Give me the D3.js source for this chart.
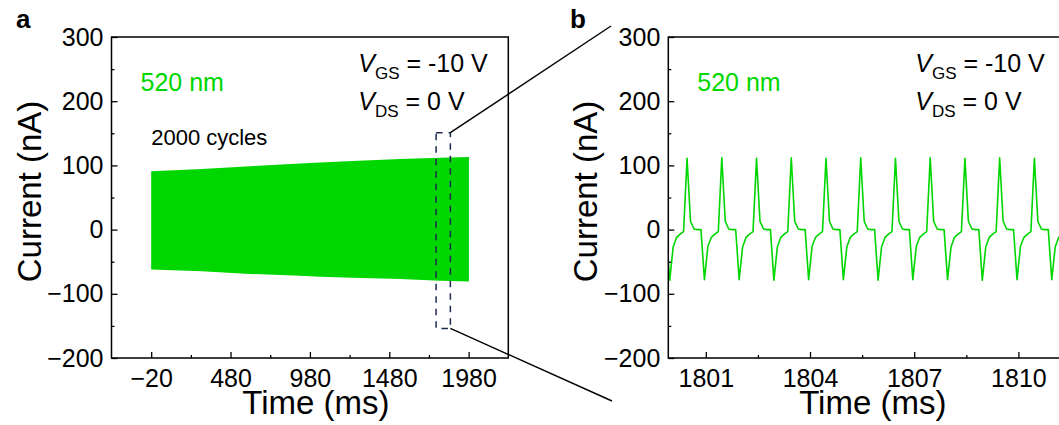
<!DOCTYPE html>
<html>
<head>
<meta charset="utf-8">
<script src="https://cdn.jsdelivr.net/npm/d3@7"></script>
<style>
  body { margin: 0; background: #fff; }
  text { font-family: "Liberation Sans", Arial, sans-serif; }
</style>
</head>
<body>
<script>
// ---- data ----
// panel a: envelope of the 2000-cycle trace
const envTime  = [-20, 300, 600, 918, 1044, 1250, 1548, 1800, 1982];
const envUpper = [91, 94.5, 98.5, 103, 104.7, 107, 110, 112, 113];
const envLower = [-62, -65, -69, -72, -73.5, -75, -77, -79.5, -81];

// panel b: sampled current, 0.1 ms step starting at 1799.86 ms
const waveT0 = 1799.86, waveDt = 0.1;
const waveCurrent = [
  0,
  -79, -27, -12, -7, -3, 111, 13, 1, 0, 0,
  -78, -26, -12, -7, -3, 112, 13, 1, 0, 0,
  -78, -27, -12, -7, -3, 111, 13, 1, 0, 0,
  -79, -27, -12, -7, -3, 112, 13, 1, 0, 0,
  -78, -26, -12, -7, -3, 111, 13, 1, 0, 0,
  -78, -27, -12, -7, -3, 112, 13, 1, 0, 0,
  -79, -27, -12, -7, -3, 111, 13, 1, 0, 0,
  -78, -26, -12, -7, -3, 112, 13, 1, 0, 0,
  -78, -27, -12, -7, -3, 111, 13, 1, 0, 0,
  -79, -27, -12, -7, -3, 112, 13, 1, 0, 0,
  -78, -26, -12, -7, -3, 111, 13, 1, 0, 0,
  -78, -27, -12, -7, -3, 111, 13, 1, 0
];

const yTicks = [-200, -100, 0, 100, 200, 300];
const yMinor = [-150, -50, 50, 150, 250];
const xTicksA = [-20, 480, 980, 1480, 1980];
const xMinorA = [230, 730, 1230, 1730];
const xTicksB = [1801, 1804, 1807, 1810];
const xMinorB = [1802.5, 1805.5, 1808.5];

// zoom window marked on panel a
const zoomBox = { t0: 1775, t1: 1865, i0: -154, i1: 151 };

const green = "#00d600";
const width = 1059, height = 425;

let svg = d3.select("body").append("svg")
    .attr("width", width)
    .attr("height", height);

const plotTop = 37, plotH = 321;

function drawPanel(left, plotW, xDomain, xTicks, xMinor, letter, letterX) {
    let g = svg.append("g").attr("transform", `translate(${left}, ${plotTop})`);

    let x = d3.scaleLinear().domain(xDomain).range([0, plotW]);
    let y = d3.scaleLinear().domain([-200, 300]).range([plotH, 0]);

    // inward ticks, major + minor
    let yAx = g.append("g")
        .call(d3.axisLeft(y).tickValues(yTicks).tickSize(-6).tickPadding(8));
    g.append("g")
        .call(d3.axisLeft(y).tickValues(yMinor).tickSize(-3).tickFormat(""));
    let xAx = g.append("g")
        .attr("transform", `translate(0, ${plotH})`)
        .call(d3.axisBottom(x).tickValues(xTicks).tickSize(-6).tickPadding(11).tickFormat(d3.format("d")));
    g.append("g")
        .attr("transform", `translate(0, ${plotH})`)
        .call(d3.axisBottom(x).tickValues(xMinor).tickSize(-3).tickFormat(""));

    g.selectAll(".domain").remove();
    g.selectAll(".tick line").attr("stroke", "#000").attr("stroke-width", 1.3);
    yAx.selectAll("text").style("font-size", "25px").attr("fill", "#000");
    xAx.selectAll("text").style("font-size", "25px").attr("fill", "#000");

    g.append("text")
        .attr("transform", `translate(${-71}, ${plotH / 2 - 6}) rotate(-90)`)
        .style("text-anchor", "middle")
        .style("font-size", "33px")
        .text("Current (nA)");

    g.append("text")
        .attr("x", plotW / 2 + 6)
        .attr("y", plotH + 56)
        .style("text-anchor", "middle")
        .style("font-size", "33px")
        .text("Time (ms)");

    svg.append("text")
        .attr("x", letterX)
        .attr("y", 28)
        .style("font-size", "26px")
        .style("font-weight", "bold")
        .text(letter);

    g.append("text")
        .attr("x", 29)
        .attr("y", 54)
        .attr("fill", green)
        .style("font-size", "25px")
        .text("520 nm");

    let lab = g.append("g").attr("transform", `translate(${plotW - 150}, 0)`);
    [["GS", " = -10 V", 35], ["DS", " = 0 V", 73]].forEach(function(r) {
        let t = lab.append("text").attr("x", 0).attr("y", r[2]).style("font-size", "25px");
        t.append("tspan").style("font-style", "italic").text("V");
        t.append("tspan").attr("dy", 7).style("font-size", "17px").text(r[0]);
        t.append("tspan").attr("dy", -7).text(r[1]);
    });

    return { g: g, x: x, y: y };
}

// ---- panel a ----
let A = drawPanel(111.5, 396.8, [-270, 2230], xTicksA, xMinorA, "a", 16);

let envData = envTime.map((t, i) => ({ t: t, hi: envUpper[i], lo: envLower[i] }));
A.g.insert("path", ":first-child")
    .datum(envData)
    .attr("fill", green)
    .attr("d", d3.area()
        .x(d => A.x(d.t))
        .y0(d => A.y(d.lo))
        .y1(d => A.y(d.hi)));

A.g.append("text")
    .attr("x", A.x(-20))
    .attr("y", 108)
    .style("font-size", "22px")
    .text("2000 cycles");

A.g.append("rect")
    .attr("x", A.x(zoomBox.t0))
    .attr("y", A.y(zoomBox.i1))
    .attr("width", A.x(zoomBox.t1) - A.x(zoomBox.t0))
    .attr("height", A.y(zoomBox.i0) - A.y(zoomBox.i1))
    .attr("fill", "none")
    .attr("stroke", "#1c2b4f")
    .attr("stroke-width", 1.5)
    .attr("stroke-dasharray", "6.5,6");

A.g.append("path")
    .attr("d", `M0,0H396.8V${plotH}H0Z`)
    .attr("fill", "none")
    .attr("stroke", "#000")
    .attr("stroke-width", 1.5);

// ---- panel b ----
let B = drawPanel(668.3, 397, [1799.92, 1811.35], xTicksB, xMinorB, "b", 570);

svg.append("clipPath").attr("id", "clipB")
    .append("rect").attr("width", 397).attr("height", plotH);

B.g.insert("path", ":first-child")
    .datum(waveCurrent)
    .attr("clip-path", "url(#clipB)")
    .attr("fill", "none")
    .attr("stroke", green)
    .attr("stroke-width", 1.6)
    .attr("stroke-linejoin", "round")
    .attr("d", d3.line()
        .x((d, i) => B.x(waveT0 + i * waveDt))
        .y(d => B.y(d)));

B.g.append("path")
    .attr("d", `M0,0H397V${plotH}H0Z`)
    .attr("fill", "none")
    .attr("stroke", "#000")
    .attr("stroke-width", 1.5);

// ---- connectors from the zoom box to panel b ----
const boxRight = 111.5 + A.x(zoomBox.t1);
svg.append("line")
    .attr("x1", boxRight).attr("y1", plotTop + A.y(zoomBox.i1))
    .attr("x2", 611).attr("y2", 26)
    .attr("stroke", "#000").attr("stroke-width", 1.4);
svg.append("line")
    .attr("x1", boxRight).attr("y1", plotTop + A.y(zoomBox.i0))
    .attr("x2", 612).attr("y2", 401)
    .attr("stroke", "#000").attr("stroke-width", 1.4);
</script>
</body>
</html>
